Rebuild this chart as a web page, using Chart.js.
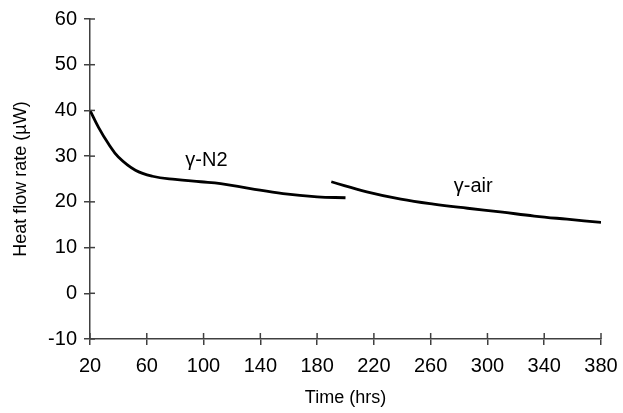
<!DOCTYPE html>
<html>
<head>
<meta charset="utf-8">
<script src="https://cdn.jsdelivr.net/npm/chart.js@4/dist/chart.umd.min.js"></script>
<style>
  html, body { margin: 0; padding: 0; background: #fff; }
  #wrap { width: 623px; height: 413px; }
</style>
</head>
<body>
<div id="wrap"><canvas id="grafico"></canvas></div>
<script>
// dados
const tempoN2 = [20, 26, 33, 40, 52, 64, 80, 98, 112, 133, 156, 180, 200];
const calorN2 = [40, 36.3, 32.7, 29.8, 26.9, 25.6, 24.9, 24.4, 24.0, 22.9, 21.8, 21.1, 20.9];
const tempoAr = [190, 215, 239, 262, 286, 309, 333, 356, 380];
const calorAr = [24.4, 22.2, 20.6, 19.5, 18.6, 17.8, 16.9, 16.2, 15.5];

const rotulos = [
  { texto: "\u03b3-N2", x: 102, y: 27.8 },
  { texto: "\u03b3-air", x: 290, y: 22.2 }
];

const corEixo = '#404040';
const fonte = 'Liberation Sans, Arial, sans-serif';

function pontos(xs, ys) {
  return xs.map((x, i) => ({ x: x, y: ys[i] }));
}

// ticks que cruzam o eixo + rótulos das curvas
const extras = {
  id: 'extras',
  afterDraw(chart) {
    const ctx = chart.ctx;
    const sx = chart.scales.x, sy = chart.scales.y;
    ctx.save();
    ctx.strokeStyle = corEixo;
    ctx.lineWidth = 1.5;
    sx.ticks.forEach(t => {
      const px = sx.getPixelForValue(t.value);
      ctx.beginPath();
      ctx.moveTo(px, sy.bottom);
      ctx.lineTo(px, sy.bottom - 6);
      ctx.stroke();
    });
    sy.ticks.forEach(t => {
      const py = sy.getPixelForValue(t.value);
      ctx.beginPath();
      ctx.moveTo(sx.left, py);
      ctx.lineTo(sx.left + 5, py);
      ctx.stroke();
    });
    ctx.fillStyle = '#000';
    ctx.font = '20px ' + fonte;
    ctx.textAlign = 'center';
    ctx.textBaseline = 'alphabetic';
    rotulos.forEach(r => {
      ctx.fillText(r.texto, sx.getPixelForValue(r.x), sy.getPixelForValue(r.y));
    });
    ctx.restore();
  }
};

const serie = (dados) => ({
  data: dados,
  borderColor: '#000',
  borderWidth: 2.8,
  pointRadius: 0,
  fill: false,
  showLine: true,
  tension: 0.4
});

new Chart(document.getElementById('grafico'), {
  type: 'scatter',
  data: {
    datasets: [serie(pontos(tempoN2, calorN2)), serie(pontos(tempoAr, calorAr))]
  },
  options: {
    responsive: true,
    maintainAspectRatio: false,
    animation: false,
    layout: { padding: { top: 17, right: 22, left: 6, bottom: 0 } },
    plugins: { legend: { display: false }, tooltip: { enabled: false } },
    scales: {
      x: {
        type: 'linear',
        min: 20, max: 380,
        afterFit: s => { s.height = 74; s.paddingRight = 0; s.paddingLeft = 0; },
        grid: { drawOnChartArea: false, color: corEixo, lineWidth: 1.5, tickLength: 6 },
        border: { color: corEixo, width: 1.5 },
        ticks: { stepSize: 40, color: '#000', font: { family: fonte, size: 20 }, padding: 9, maxRotation: 0 },
        title: { display: true, text: 'Time (hrs)', color: '#000', font: { family: fonte, size: 18 }, padding: { top: 4 } }
      },
      y: {
        min: -10, max: 60,
        afterFit: s => { s.width = 84; },
        grid: { drawOnChartArea: false, color: corEixo, lineWidth: 1.5, tickLength: 6 },
        border: { color: corEixo, width: 1.5 },
        ticks: { stepSize: 10, color: '#000', font: { family: fonte, size: 20 }, padding: 7 },
        title: { display: true, text: 'Heat flow rate (\u00b5W)', color: '#000', font: { family: fonte, size: 18 }, padding: { bottom: 0 } }
      }
    }
  },
  plugins: [extras]
});
</script>
</body>
</html>
